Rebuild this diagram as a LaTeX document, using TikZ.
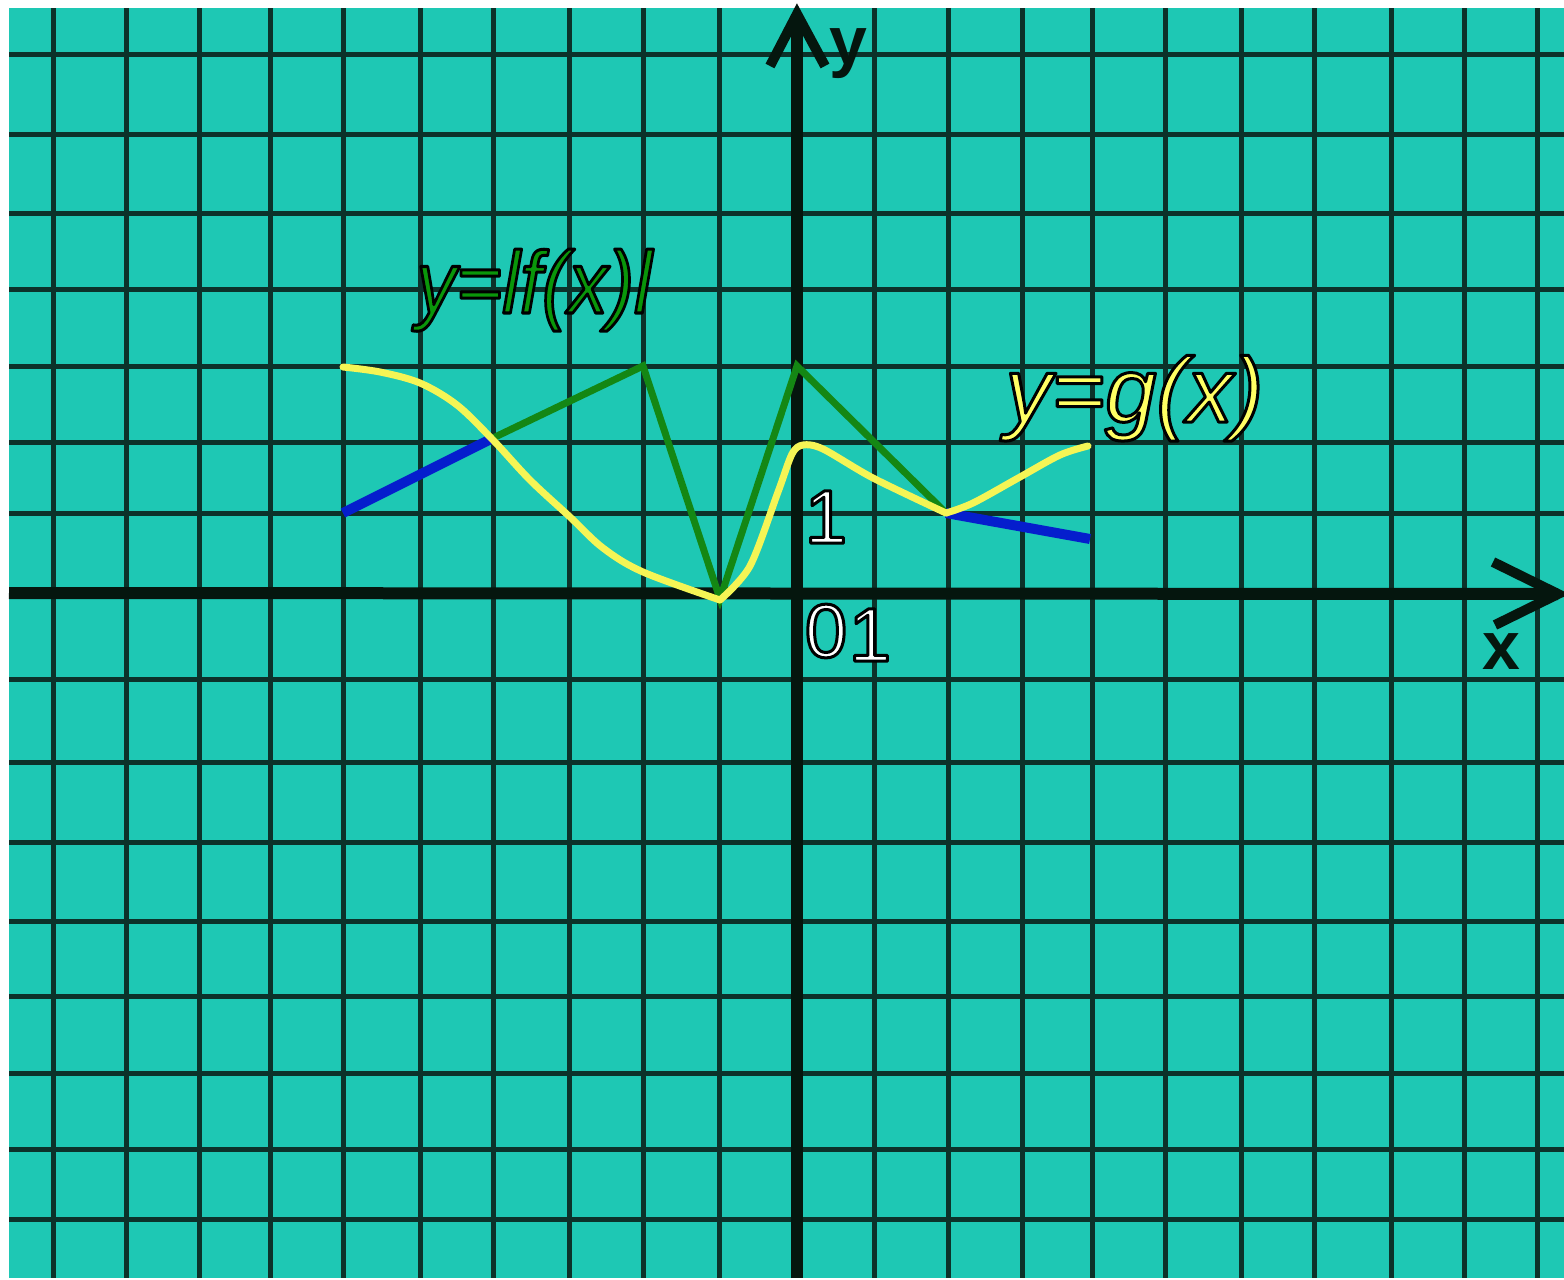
\documentclass[tikz,border=0pt]{standalone}
\usepackage{fontspec}
\setmainfont{Liberation Sans}
\definecolor{bgteal}{RGB}{30,200,180}
\definecolor{gridc}{RGB}{12,50,42}
\definecolor{axisc}{RGB}{5,22,14}
\definecolor{fgreen}{RGB}{20,135,20}
\definecolor{lgreen}{RGB}{10,150,10}
\definecolor{gyellow}{RGB}{245,245,85}
\definecolor{lyellow}{RGB}{255,255,100}
\definecolor{fblue}{RGB}{5,30,205}
\newcommand{\outl}[2]{\textcolor{#1}{\special{pdf:code q 0 0 0 RG 1.5 w 2 Tr 1 j}#2\special{pdf:code Q}}}
\begin{document}
\begin{tikzpicture}[x=0.5pt,y=-0.5pt,
  gridline/.style={draw=gridc,line width=2.5pt},
  axisline/.style={draw=axisc,line width=6pt},
  chevron/.style={draw=axisc,line width=5pt,line join=miter},
  fcurve/.style={draw=fgreen,line width=3.5pt,line join=miter},
  gcurve/.style={draw=gyellow,line width=3.5pt,line cap=round,line join=round},
  bcurve/.style={draw=fblue,line width=5pt},
  axlabel/.style={inner sep=0pt,text=axisc,font=\fontsize{34}{38}\selectfont\bfseries},
  numlabel/.style={inner sep=0pt,font=\fontsize{38}{42}\selectfont}]
\useasboundingbox (0,0) rectangle (1564,1280);
\fill[white] (0,0) rectangle (1564,1280);
\fill[bgteal] (9,8) rectangle (1564,1278);
% grid
\foreach \gx in {53,126,199,270,343,420,493,569,643,719,874,948,1022,1092,1165,1241,1314,1391,1464,1537}
  \draw[gridline] (\gx,8) -- (\gx,1278);
\foreach \gy in {54,134,213,289,366,442,513,679,762,842,921,996,1073,1149,1219}
  \draw[gridline] (9,\gy) -- (1564,\gy);
% axes
\coordinate (ybot) at (797,1278);
\coordinate (ytip) at (797,14);
\coordinate (yw1) at (770,66);
\coordinate (yw2) at (825,66);
\coordinate (xleft) at (9,593);
\coordinate (xtip) at (1558,594);
\coordinate (xw1) at (1493,562);
\coordinate (xw2) at (1495,625);
\draw[axisline] (ybot) -- (ytip);
\draw[axisline] (xleft) -- (xtip);
\draw[chevron] (yw1) -- (ytip) -- (yw2);
\draw[chevron] (xw1) -- (xtip) -- (xw2);
\node[axlabel,anchor=north west] (ylab) at (829,28) {y};
\node[axlabel,anchor=north west] (xlab) at (1482,633) {x};
% |f(x)|
\coordinate (f1) at (493,438);
\coordinate (f2) at (643,366);
\coordinate (f3) at (720,599);
\coordinate (f4) at (797,366);
\coordinate (f5) at (946,513);
\draw[fcurve] (f1) -- (f2) -- (f3) -- (f4) -- (f5);
% blue parts
\coordinate (b1) at (343,513);
\coordinate (b2) at (1090,539);
\draw[bcurve] (b1) -- (f1);
\draw[bcurve] (f5) -- (b2);
% g(x)
\draw[gcurve] plot[smooth,tension=0.55] coordinates {(343,367) (380,372) (420,383) (457,405) (493,440) (530,480) (570,517) (603,548) (643,572) (720,600)};
\draw[gcurve] plot[smooth,tension=0.5] coordinates {(720,600) (750,566) (778,492) (792,454) (803,445) (823,449) (873,478) (946,513)};
\draw[gcurve] plot[smooth,tension=0.55] coordinates {(946,513) (973,503) (1020,477) (1060,455) (1088,446)};
% labels
\node[inner sep=0pt,anchor=base west,font=\fontsize{44}{48}\selectfont\itshape] (flab) at (416,313) {\scalebox{0.9}[1]{\outl{lgreen}{y=lf(x)l}}};
\node[inner sep=0pt,anchor=base west,font=\fontsize{46}{50}\selectfont\itshape] (glab) at (1005,422) {\outl{lyellow}{y=g(x)}};
\node[numlabel] (one1) at (826,517) {\outl{white}{1}};
\node[numlabel] (zero) at (826,631) {\outl{white}{0}};
\node[numlabel] (one2) at (870,635) {\outl{white}{1}};
\end{tikzpicture}
\end{document}
